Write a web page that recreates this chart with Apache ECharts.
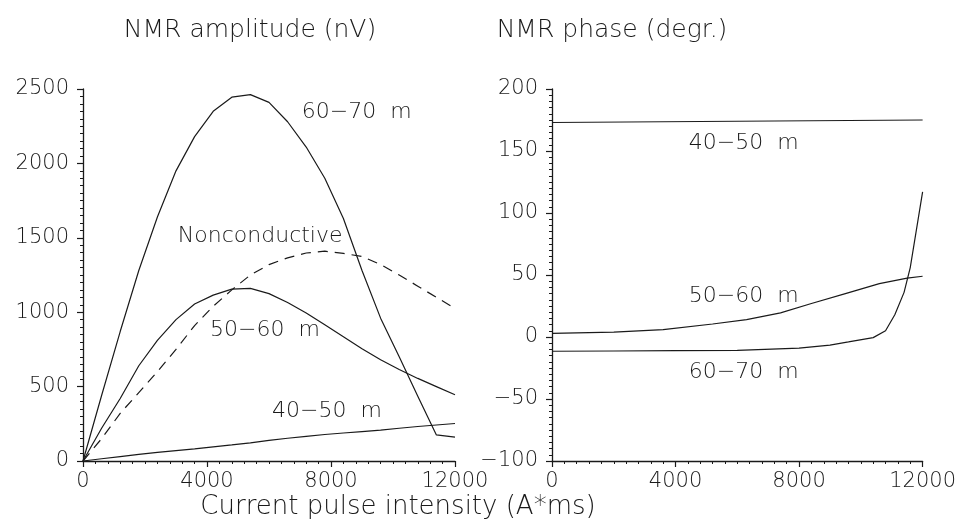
<!DOCTYPE html>
<html>
<head>
<meta charset="utf-8">
<script src="https://cdn.jsdelivr.net/npm/echarts@6/dist/echarts.min.js"></script>
<style>
html,body{margin:0;padding:0;background:#fff;}
#chart{width:959px;height:529px;}
</style>
</head>
<body>
<div id="chart"></div>
<script>
// 左图：振幅 (nV)，x 为脉冲强度
var ampX = [0,600,1200,1800,2400,3000,3600,4200,4800,5400,6000,6600,7200,7800,8400,9000,9600,10200,10800,11400,12000];
var amp6070 = [0,440,870,1280,1640,1950,2180,2350,2445,2462,2410,2280,2110,1900,1630,1280,960,700,435,175,160];
var amp5060 = [0,220,420,640,810,950,1055,1115,1155,1160,1125,1065,995,915,835,755,680,615,555,500,445];
var amp4050 = [0,15,30,45,58,70,82,95,108,122,138,153,166,178,188,198,208,220,232,242,252];
var ampNonc = [0,150,320,460,600,750,910,1040,1150,1250,1320,1365,1398,1410,1395,1375,1320,1250,1175,1100,1025];

// 右图：相位 (度)
var phX4050 = [0,12000];
var ph4050 = [173,175];
var phX5060 = [0,2000,3600,5200,6300,7400,8400,9500,10600,11500,12000];
var ph5060 = [3,4,6,10.5,14,19.5,27,35,43,47.5,49];
var phX6070 = [0,2000,4000,6000,8000,9000,9600,10400,10800,11100,11400,11600,12000];
var ph6070 = [-11.5,-11.3,-11,-10.8,-9,-6.5,-4,-0.5,5,18,36,56,117];

// 刻度
var xTicks = [0,12000,4000];      // min,max,interval
var ampTicks = [0,2500,500];
var phTicks = [-100,200,50];

var fontName = 'DejaVu Sans';
var ink = '#1a1a1a';

function pairs(xs, ys){
    var out = [];
    for(var i=0;i<xs.length;i++){ out.push([xs[i], ys[i]]); }
    return out;
}

// 不要千位分隔符，负号用长横
function plainFmt(v){
    return String(v).replace('-', '\u2212');
}

function xAxisCfg(idx){
    return {
        type:'value', gridIndex:idx,
        min:xTicks[0], max:xTicks[1], interval:xTicks[2],
        axisLine:{show:true, onZero:false, lineStyle:{color:ink, width:1.3}},
        axisTick:{show:true, inside:false, length:6, lineStyle:{color:ink, width:1.2}},
        minorTick:{show:true, splitNumber:10, length:3, lineStyle:{color:ink, width:1}},
        splitLine:{show:false},
        axisLabel:{color:ink, fontFamily:fontName, fontWeight:300, fontSize:21, margin:10,
                   showMinLabel:true, showMaxLabel:true, formatter:plainFmt}
    };
}

function yAxisCfg(idx, t){
    return {
        type:'value', gridIndex:idx,
        min:t[0], max:t[1], interval:t[2],
        axisLine:{show:true, onZero:false, lineStyle:{color:ink, width:1.3}},
        axisTick:{show:true, inside:false, length:6, lineStyle:{color:ink, width:1.2}},
        minorTick:{show:true, splitNumber:10, length:3, lineStyle:{color:ink, width:1}},
        splitLine:{show:false},
        axisLabel:{color:ink, fontFamily:fontName, fontWeight:300, fontSize:21, margin:14, formatter:plainFmt}
    };
}

function lineS(name, xi, data, dashed){
    return {
        name:name, type:'line', xAxisIndex:xi, yAxisIndex:xi,
        data:data, showSymbol:false, symbol:'none', silent:true,
        lineStyle:{color:ink, width:1.2, type: dashed ? [10,7] : 'solid'}
    };
}

var chart = echarts.init(document.getElementById('chart'));
var option = {
    animation:false,
    backgroundColor:'#fff',
    grid:[
        {left:83, right:504, top:89, bottom:68},
        {left:552, right:36, top:89, bottom:68}
    ],
    xAxis:[xAxisCfg(0), xAxisCfg(1)],
    yAxis:[yAxisCfg(0, ampTicks), yAxisCfg(1, phTicks)],
    series:[
        lineS('60-70 m', 0, pairs(ampX, amp6070)),
        lineS('50-60 m', 0, pairs(ampX, amp5060)),
        lineS('40-50 m', 0, pairs(ampX, amp4050)),
        lineS('Nonconductive', 0, pairs(ampX, ampNonc), true),
        lineS('40-50 m', 1, pairs(phX4050, ph4050)),
        lineS('50-60 m', 1, pairs(phX5060, ph5060)),
        lineS('60-70 m', 1, pairs(phX6070, ph6070))
    ]
};
chart.setOption(option);

// 曲线标注，位置用数据坐标换算
var notes = [
    {g:0, at:[7060,2345], text:'60\u221270  m'},
    {g:0, at:[3060,1512], text:'Nonconductive'},
    {g:0, at:[4100,880], text:'50\u221260  m'},
    {g:0, at:[6100,336], text:'40\u221250  m'},
    {g:1, at:[4430,156.6], text:'40\u221250  m'},
    {g:1, at:[4430,32.7], text:'50\u221260  m'},
    {g:1, at:[4430,-28.5], text:'60\u221270  m'}
];
var noteFont = '300 22px "DejaVu Sans"';
var gfx = [];
for(var i=0;i<notes.length;i++){
    var p = chart.convertToPixel({gridIndex:notes[i].g}, notes[i].at);
    gfx.push({
        type:'text', x:p[0], y:p[1], silent:true,
        style:{text:notes[i].text, fill:ink, font:noteFont, textAlign:'left', textVerticalAlign:'middle'}
    });
}
// 标题与横轴名称
gfx.push({type:'text', x:250, y:30, style:{text:'NMR amplitude (nV)', fill:ink, font:'300 25px "DejaVu Sans"', textAlign:'center', textVerticalAlign:'middle'}});
gfx.push({type:'text', x:612, y:30, style:{text:'NMR phase (degr.)', fill:ink, font:'300 25px "DejaVu Sans"', textAlign:'center', textVerticalAlign:'middle'}});
gfx.push({type:'text', x:398, y:507, style:{text:'Current pulse intensity (A*ms)', fill:ink, font:'300 26px "DejaVu Sans"', textAlign:'center', textVerticalAlign:'middle'}});
chart.setOption({graphic:gfx});
</script>
</body>
</html>
